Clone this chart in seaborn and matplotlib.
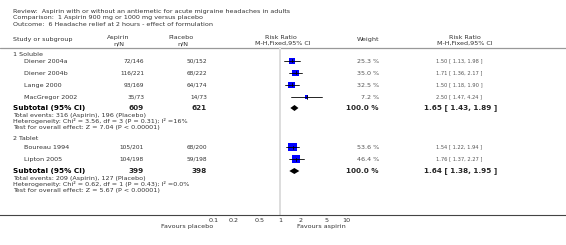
import numpy as np
import pandas as pd
import matplotlib
matplotlib.use("Agg")
import matplotlib.pyplot as plt
import seaborn as sns

# ---- data ----
studies = ["Diener 2004a", "Diener 2004b", "Lange 2000", "MacGregor 2002",
           "Boureau 1994", "Lipton 2005"]
subgroup = ["1 Soluble", "1 Soluble", "1 Soluble", "1 Soluble", "2 Tablet", "2 Tablet"]
asp_events = [72, 116, 93, 35, 105, 104]
asp_total = [146, 221, 169, 73, 201, 198]
pla_events = [50, 68, 64, 14, 68, 59]
pla_total = [152, 222, 174, 73, 200, 198]
weights = [25.3, 35.0, 32.5, 7.2, 53.6, 46.4]
rr = [1.50, 1.71, 1.50, 2.50, 1.54, 1.76]
rr_lo = [1.13, 1.36, 1.18, 1.47, 1.22, 1.37]
rr_hi = [1.98, 2.17, 1.90, 4.24, 1.94, 2.27]

groups = ["1 Soluble", "2 Tablet"]
sub_asp_total = [609, 399]
sub_pla_total = [621, 398]
sub_rr = [1.65, 1.64]
sub_lo = [1.43, 1.38]
sub_hi = [1.89, 1.95]
sub_notes = [
    ["Total events: 316 (Aspirin), 196 (Placebo)",
     "Heterogeneity: Chi\u00b2 = 3.56, df = 3 (P = 0.31); I\u00b2 =16%",
     "Test for overall effect: Z = 7.04 (P < 0.00001)"],
    ["Total events: 209 (Aspirin), 127 (Placebo)",
     "Heterogeneity: Chi\u00b2 = 0.62, df = 1 (P = 0.43); I\u00b2 =0.0%",
     "Test for overall effect: Z = 5.67 (P < 0.00001)"],
]
title_lines = ["Review:  Aspirin with or without an antiemetic for acute migraine headaches in adults",
               "Comparison:  1 Aspirin 900 mg or 1000 mg versus placebo",
               "Outcome:  6 Headache relief at 2 hours - effect of formulation"]
xticks = [0.1, 0.2, 0.5, 1, 2, 5, 10]
xtick_labels = ["0.1", "0.2", "0.5", "1", "2", "5", "10"]

df = pd.DataFrame({"study": studies, "group": subgroup, "ae": asp_events, "an": asp_total,
                   "pe": pla_events, "pn": pla_total, "w": weights,
                   "rr": rr, "lo": rr_lo, "hi": rr_hi})

# ---- layout (pixel rows) ----
W, H = 566, 245
group_y = [54, 138]
study_y = [61, 73, 85, 97, 147, 159]
sub_y = [108, 171]
note_dy = [7, 13, 19]
axis_y = 215
df["y"] = study_y

sns.set_theme(style="white")
plt.rcParams["font.family"] = ["DejaVu Sans"]
FS = 4.55
FSN = 4.2   # n/N columns
FSR = 3.7   # risk ratio column
FSB = 5.2
TXT = "#333333"

fig = plt.figure(figsize=(W / 100, H / 100), dpi=100)
ax = fig.add_axes([0, 0, 1, 1])
ax.set_xlim(0, W)
ax.set_ylim(H, 0)
ax.axis("off")

# forest axes: log x, same pixel rows, bottom spine is the full-width axis line
decade = 66.7
x01 = 213.3
lo_lim = 10 ** (-1 - x01 / decade)
hi_lim = 10 ** (-1 + (W - x01) / decade)
fax = fig.add_axes([0, (H - axis_y) / H, 1, axis_y / H])
fax.set_xscale("log")
fax.set_xlim(lo_lim, hi_lim)
fax.set_ylim(axis_y, 0)
fax.patch.set_alpha(0)
for s in ["top", "left", "right"]:
    fax.spines[s].set_visible(False)
fax.spines["bottom"].set_color("#444444")
fax.spines["bottom"].set_linewidth(0.8)

# line of no effect
fax.plot([1, 1], [48.5, axis_y], color="#dddddd", lw=1.4, zorder=0)

# squares (side proportional to sqrt of weight)
side_pt = 1.15 * np.sqrt(df["w"]) * 0.72
sns.scatterplot(data=df, x="rr", y="y", marker="s", s=side_pt ** 2, color="#0000ff",
                linewidth=0, ax=fax, legend=False, zorder=2)
for _, r in df.iterrows():
    fax.plot([r["lo"], r["hi"]], [r["y"], r["y"]], color="black", lw=0.6, zorder=3)
    fax.plot([r["rr"], r["rr"]], [r["y"] - 1.5, r["y"] + 1.5], color="black", lw=0.6, zorder=3)

# diamonds for subtotals
for i in range(2):
    y = sub_y[i]
    fax.fill([sub_lo[i], sub_rr[i], sub_hi[i], sub_rr[i]], [y, y - 3, y, y + 3],
             color="black", lw=0, zorder=3)

fax.set_xlabel("")
fax.set_ylabel("")
fax.set_yticks([])
fax.set_xticks(xticks)
fax.set_xticklabels(xtick_labels)
fax.minorticks_off()
fax.tick_params(axis="x", direction="out", length=2, width=0.5, color="#444444",
                labelsize=FS, labelcolor=TXT, pad=0.5)

# ---- text ----
for i, t in enumerate(title_lines):
    ax.text(13, 11 + i * 6.5, t, fontsize=FS, color=TXT, va="center")

hy1, hy2 = 37.5, 43.5
ax.text(13, 39, "Study or subgroup", fontsize=FS, color=TXT, va="center")
ax.text(118, hy1, "Aspirin", fontsize=FS, color=TXT, va="center", ha="center")
ax.text(119, hy2, "n/N", fontsize=FS, color=TXT, va="center", ha="center")
ax.text(181, hy1, "Placebo", fontsize=FS, color=TXT, va="center", ha="center")
ax.text(183, hy2, "n/N", fontsize=FS, color=TXT, va="center", ha="center")
ax.text(281, hy1, "Risk Ratio", fontsize=FS, color=TXT, va="center", ha="center")
ax.text(283, hy2, "M-H,Fixed,95% CI", fontsize=FS, color=TXT, va="center", ha="center")
ax.text(379, 39, "Weight", fontsize=FS, color=TXT, va="center", ha="right")
ax.text(465, hy1, "Risk Ratio", fontsize=FS, color=TXT, va="center", ha="center")
ax.text(465, hy2, "M-H,Fixed,95% CI", fontsize=FS, color=TXT, va="center", ha="center")
ax.plot([0, W], [48.3, 48.3], color="#999999", lw=0.9)

for g in range(2):
    ax.text(13, group_y[g], groups[g], fontsize=FS, color=TXT, va="center")
for _, r in df.iterrows():
    y = r["y"]
    ax.text(24, y, r["study"], fontsize=FS, color=TXT, va="center")
    ax.text(144, y, f"{r['ae']}/{r['an']}", fontsize=FSN, color=TXT, va="center", ha="right")
    ax.text(207, y, f"{r['pe']}/{r['pn']}", fontsize=FSN, color=TXT, va="center", ha="right")
    ax.text(379, y, f"{r['w']:.1f} %", fontsize=FS, color="#555555", va="center", ha="right")
    ax.text(459, y, f"{r['rr']:.2f} [ {r['lo']:.2f}, {r['hi']:.2f} ]", fontsize=FSR,
            color="#555555", va="center", ha="center")

for g in range(2):
    y = sub_y[g]
    ax.text(13, y, "Subtotal (95% CI)", fontsize=FSB, fontweight="bold", color="black", va="center")
    ax.text(144, y, f"{sub_asp_total[g]}", fontsize=FSB, fontweight="bold", va="center", ha="right")
    ax.text(207, y, f"{sub_pla_total[g]}", fontsize=FSB, fontweight="bold", va="center", ha="right")
    ax.text(379, y, "100.0 %", fontsize=FSB, fontweight="bold", va="center", ha="right")
    ax.text(461, y, f"{sub_rr[g]:.2f} [ {sub_lo[g]:.2f}, {sub_hi[g]:.2f} ]", fontsize=FSB,
            fontweight="bold", va="center", ha="center")
    for k, t in enumerate(sub_notes[g]):
        ax.text(13, y + note_dy[k], t, fontsize=FS, color=TXT, va="center")

ax.text(213, 226, "Favours placebo", fontsize=FS, color=TXT, va="center", ha="right")
ax.text(297, 226, "Favours aspirin", fontsize=FS, color=TXT, va="center", ha="left")

fig.savefig("out.png", dpi=100)
